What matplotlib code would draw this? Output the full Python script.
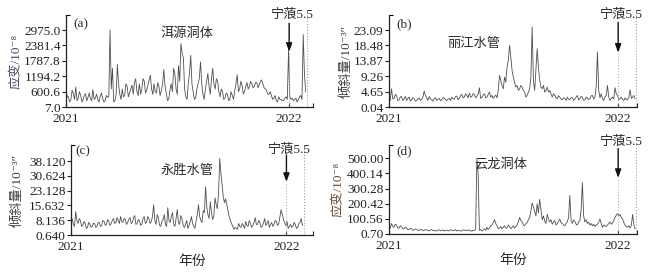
import matplotlib
matplotlib.use("Agg")
import matplotlib.pyplot as plt
import pandas as pd

plt.rcParams['font.family'] = ['Liberation Serif', 'Noto Sans CJK SC', 'DejaVu Sans']

# ---------------- data (sampled every 2 days from 2021-01-01) ----------------
start_date = "2021-01-01"
step_days = 2
quake_date = "2022-01-01"
data_end_date = "2022-01-30"

erhai_a = [250, 450, 380, 200, 300, 650, 520, 300, 780, 250, 350, 600, 450, 200, 300, 450, 520, 250, 380, 550,
           320, 250, 680, 300, 350, 500, 300, 200, 420, 550, 330, 200, 250, 450, 380, 400, 2975, 700, 1500, 200,
           250, 500, 1650, 900, 500, 300, 700, 400, 450, 900, 800, 400, 550, 700, 850, 500, 950, 1100, 600, 450,
           900, 500, 700, 1100, 1000, 550, 650, 850, 1050, 1230, 700, 500, 900, 600, 550, 950, 800, 450, 650, 900,
           1450, 800, 550, 250, 300, 650, 900, 600, 1500, 1300, 700, 500, 1600, 1000, 2450, 2070, 1900, 700, 400, 300,
           900, 1300, 2000, 900, 600, 300, 350, 700, 900, 1100, 1750, 900, 500, 300, 700, 1000, 1300, 800, 500, 1100,
           1500, 900, 700, 1100, 1000, 600, 400, 700, 600, 300, 350, 550, 500, 250, 300, 600, 450, 300, 650, 900,
           1250, 600, 700, 1000, 850, 500, 600, 800, 950, 700, 800, 1000, 900, 750, 800, 950, 950, 750, 850, 1000,
           1050, 900, 750, 700, 650, 500, 500, 600, 450, 300, 350, 450, 250, 200, 400, 300, 300, 250, 250, 350,
           400, 300, 2200, 400, 300, 350, 250, 300, 350, 200, 300, 400, 450, 300, 2800, 1300, 600]

lijiang_b = [3.0, 2.0, 5.5, 2.5, 2.5, 3.8, 3.5, 2.0, 2.2, 3.0, 3.2, 2.0, 2.5, 3.2, 2.0, 2.6, 3.0, 1.8, 2.2, 2.8,
             2.5, 1.8, 2.0, 2.4, 2.8, 2.0, 2.3, 3.0, 4.8, 3.5, 2.8, 2.0, 3.2, 2.5, 2.2, 1.8, 2.5, 2.8, 2.0, 2.4,
             2.6, 1.9, 2.2, 2.8, 2.8, 2.2, 2.0, 2.4, 2.6, 2.0, 3.0, 2.5, 2.4, 3.2, 3.3, 2.2, 2.6, 3.5, 3.8, 2.8,
             3.0, 4.0, 3.5, 2.8, 4.2, 3.0, 3.2, 4.0, 3.8, 2.8, 3.3, 4.0, 5.8, 2.6, 3.0, 3.6, 4.0, 2.8, 3.0, 3.8,
             4.5, 3.0, 3.5, 2.6, 3.2, 3.6, 2.8, 5.0, 9.5, 8.0, 6.5, 5.5, 9.0, 7.5, 12.0, 14.0, 18.5, 15.0, 11.0, 9.0,
             7.5, 6.0, 6.5, 5.0, 5.5, 6.5, 6.0, 5.0, 4.5, 3.0, 3.5, 4.5, 5.5, 9.0, 24.0, 8.0, 5.0, 11.0, 17.5, 12.0,
             8.0, 6.0, 5.5, 6.5, 4.5, 5.0, 6.0, 4.5, 5.0, 4.0, 3.0, 4.0, 3.5, 2.8, 2.5, 3.4, 3.0, 2.4, 2.2, 2.8,
             2.6, 2.0, 3.0, 2.4, 2.2, 2.9, 2.8, 2.0, 2.4, 3.0, 3.5, 2.2, 2.5, 3.2, 3.0, 2.0, 2.2, 3.0, 2.8, 2.2,
             2.5, 3.4, 3.5, 2.4, 3.0, 6.0, 16.5, 5.0, 2.8, 4.0, 2.5, 2.0, 3.0, 3.5, 6.5, 3.0, 2.0, 2.6, 3.0, 2.4,
             5.8, 4.0, 3.5, 2.2, 2.5, 3.0, 2.3, 2.0, 2.8, 2.2, 2.2, 3.0, 5.2, 2.6, 3.0, 3.5, 2.5]

yongsheng_c = [7.5, 9.0, 6.0, 5.0, 12.5, 8.0, 6.5, 9.0, 8.0, 5.0, 5.5, 7.5, 6.5, 4.0, 4.5, 7.0, 6.0, 4.5, 5.0, 6.5,
               6.5, 4.5, 5.0, 7.0, 7.0, 5.0, 5.5, 8.0, 7.5, 5.5, 6.0, 8.5, 7.5, 5.5, 6.5, 8.0, 9.0, 6.5, 7.0, 9.5,
               8.0, 6.5, 10.0, 7.5, 7.0, 9.0, 8.5, 6.0, 7.0, 8.5, 9.5, 6.5, 7.0, 9.5, 10.5, 6.0, 6.5, 8.5, 8.0, 5.5,
               6.0, 9.0, 10.0, 6.5, 7.0, 10.0, 9.0, 6.5, 7.5, 10.0, 16.0, 8.0, 6.0, 11.0, 9.5, 5.5, 5.0, 7.5, 8.5, 11.0,
               6.0, 5.0, 14.5, 8.0, 7.0, 10.0, 12.0, 6.0, 5.0, 9.0, 13.5, 7.0, 6.0, 10.5, 9.0, 5.5, 4.5, 6.0, 8.0, 4.0,
               5.5, 7.5, 10.0, 6.5, 5.0, 4.0, 8.0, 11.0, 16.0, 10.0, 8.0, 7.0, 13.0, 12.0, 25.0, 15.0, 11.0, 9.0, 17.5, 12.0,
               8.5, 10.0, 19.5, 16.0, 14.0, 22.0, 39.5, 32.0, 26.0, 20.0, 17.0, 19.0, 16.0, 13.0, 10.0, 8.0, 6.5, 5.0, 3.5, 4.5,
               4.0, 3.5, 6.5, 5.0, 4.5, 6.5, 5.5, 4.0, 7.5, 5.5, 5.0, 8.0, 6.5, 4.5, 5.5, 7.0, 9.5, 6.0, 6.0, 8.0,
               7.0, 4.5, 5.0, 6.5, 9.0, 5.5, 6.5, 8.0, 4.5, 6.0, 7.0, 5.0, 6.0, 8.0, 7.5, 5.5, 6.5, 10.0, 13.5, 11.0,
               8.5, 7.0, 5.5, 7.5, 4.0, 5.0, 6.0, 4.5, 5.0, 7.0, 6.0, 4.0, 4.5, 6.5, 7.0, 9.0, 5.5]

yunlong_d = [55, 40, 70, 50, 45, 65, 60, 40, 40, 55, 50, 35, 35, 45, 40, 30, 30, 38, 35, 25,
             28, 34, 32, 24, 25, 30, 30, 22, 24, 30, 28, 22, 22, 27, 30, 24, 25, 20, 22, 27,
             28, 22, 24, 28, 20, 25, 26, 21, 22, 27, 28, 22, 24, 30, 20, 24, 25, 20, 22, 28,
             28, 23, 23, 27, 26, 21, 20, 25, 24, 30, 500, 390, 25, 30, 20, 28, 35, 25, 45, 30,
             40, 55, 60, 75, 95, 70, 55, 35, 40, 50, 35, 45, 55, 40, 40, 60, 50, 35, 45, 55,
             40, 50, 60, 80, 110, 90, 80, 60, 55, 70, 75, 95, 110, 150, 205, 180, 150, 120, 200, 140,
             230, 160, 95, 120, 85, 70, 130, 100, 80, 95, 65, 80, 90, 60, 70, 85, 100, 75, 70, 60,
             55, 70, 80, 110, 255, 90, 70, 95, 85, 65, 60, 80, 90, 160, 340, 120, 80, 95, 70, 80,
             60, 70, 55, 65, 50, 60, 65, 80, 100, 70, 45, 60, 55, 50, 60, 70, 80, 65, 75, 90,
             110, 125, 135, 120, 130, 110, 100, 75, 60, 50, 45, 55, 40, 60, 130, 60, 35]

yticks_a = [7.0, 600.6, 1194.2, 1787.8, 2381.4, 2975.0]
yticks_b = [0.04, 4.65, 9.26, 13.87, 18.48, 23.09]
yticks_c = [0.640, 8.136, 15.632, 23.128, 30.624, 38.120]
yticks_d = [0.70, 100.56, 200.42, 300.28, 400.14, 500.00]
ylabels_a = ["7.0", "600.6", "1194.2", "1787.8", "2381.4", "2975.0"]
ylabels_b = ["0.04", "4.65", "9.26", "13.87", "18.48", "23.09"]
ylabels_c = ["0.640", "8.136", "15.632", "23.128", "30.624", "38.120"]
ylabels_d = ["0.70", "100.56", "200.42", "300.28", "400.14", "500.00"]
ylim_top = [3556, 27.6, 46.3, 588]

panel_tags = ["(a)", "(b)", "(c)", "(d)"]
station_names = ["洱源洞体", "丽江水管", "永胜水管", "云龙洞体"]
ylab_texts = ["应变/10⁻⁸", "倾斜量/10⁻³″", "倾斜量/10⁻³″", "应变/10⁻⁸"]
quake_label = "宁蒗5.5"
xlabel_text = "年份"
xtick_labels = ["2021", "2022", ""]

# ---------------- layout ----------------
W, H = 657, 273
fig = plt.figure(figsize=(W / 100, H / 100), dpi=100)

def px_axes(l, r, t, b):
    return [l / W, (H - b) / H, (r - l) / W, (b - t) / H]

rects = [px_axes(66, 313, 15, 107), px_axes(389, 637, 15, 107),
         px_axes(71, 313, 145, 235), px_axes(389, 637, 145, 234)]
xlim_days = [404, 395, 410, 395]
series = [erhai_a, lijiang_b, yongsheng_c, yunlong_d]
yticks = [yticks_a, yticks_b, yticks_c, yticks_d]
ylabels = [ylabels_a, ylabels_b, ylabels_c, ylabels_d]
name_pos = [(0.49, 0.80), (0.34, 0.69), (0.48, 0.71), (0.45, 0.78)]
tag_pos = [(0.03, 0.90), (0.03, 0.90), (0.02, 0.93), (0.03, 0.93)]
quake_text_y = [1.00, 1.00, 0.94, 1.03]
arrow_start = [0.91, 0.92, 0.89, 0.96]
arrow_tip = [0.60, 0.59, 0.59, 0.63]
ylab_colors = ["#4e4866", "#3c3c3c", "#3c3c3c", "#6a4a33"]
ylab_x = [-0.175, -0.145, -0.195, -0.177]

t0 = pd.Timestamp(start_date)
tq = pd.Timestamp(quake_date)
tend = pd.Timestamp(data_end_date)
text_col = "#2a2a2a"

for i in range(4):
    ax = fig.add_axes(rects[i])
    vals = series[i]
    dates = pd.date_range(t0, periods=len(vals), freq=f"{step_days}D")
    ax.plot(dates, vals, color="#505050", lw=0.6)
    xr = t0 + pd.Timedelta(days=xlim_days[i])
    ax.set_xlim(t0, xr)
    ax.set_ylim(yticks[i][0], ylim_top[i])
    for s in ["top", "right"]:
        ax.spines[s].set_visible(False)
    for s in ["left", "bottom"]:
        ax.spines[s].set_linewidth(0.9)
        ax.spines[s].set_color("#222222")
    ax.set_yticks(yticks[i])
    ax.set_yticklabels(ylabels[i])
    ax.set_yticks([ylim_top[i]], minor=True)
    ax.set_xticks([t0, tq, xr])
    ax.set_xticklabels(xtick_labels)
    ax.tick_params(axis="y", which="major", direction="out", length=3, width=0.8,
                   labelsize=9.5, pad=1, colors="#222222")
    ax.tick_params(axis="y", which="minor", direction="in", length=3, width=0.8)
    ax.tick_params(axis="x", direction="in", length=3, width=0.8, labelsize=9.5,
                   pad=4, colors="#222222")
    ax.set_ylabel(ylab_texts[i], fontsize=9.5, color=ylab_colors[i], labelpad=1)
    ax.yaxis.set_label_coords(ylab_x[i], 0.5)
    # dotted reference lines
    ax.plot([tq, tq], [0, arrow_tip[i]], transform=ax.get_xaxis_transform(),
            ls=":", color="#b0b0b0", lw=0.8)
    ax.axvline(tend, ls=":", color="#a0a0a0", lw=0.8)
    # earthquake arrow and label
    ax.annotate("", xy=(tq, arrow_tip[i]), xytext=(tq, arrow_start[i]),
                xycoords=("data", "axes fraction"), textcoords=("data", "axes fraction"),
                arrowprops=dict(arrowstyle="-|>,head_length=0.5,head_width=0.18",
                                color="#111111", lw=1.0, shrinkA=0, shrinkB=0),
                annotation_clip=False)
    ax.text(tq + pd.Timedelta(days=4), quake_text_y[i], quake_label,
            transform=ax.get_xaxis_transform(), ha="center", va="center",
            fontsize=9.5, color=text_col, clip_on=False)
    ax.text(*name_pos[i], station_names[i], transform=ax.transAxes, ha="center",
            va="center", fontsize=9.5, color=text_col)
    ax.text(*tag_pos[i], panel_tags[i], transform=ax.transAxes, ha="left",
            va="center", fontsize=9.5, color=text_col)
    if i >= 2:
        ax.set_xlabel(xlabel_text, fontsize=10, color=text_col, labelpad=2)

fig.savefig("out.png", dpi=100)
